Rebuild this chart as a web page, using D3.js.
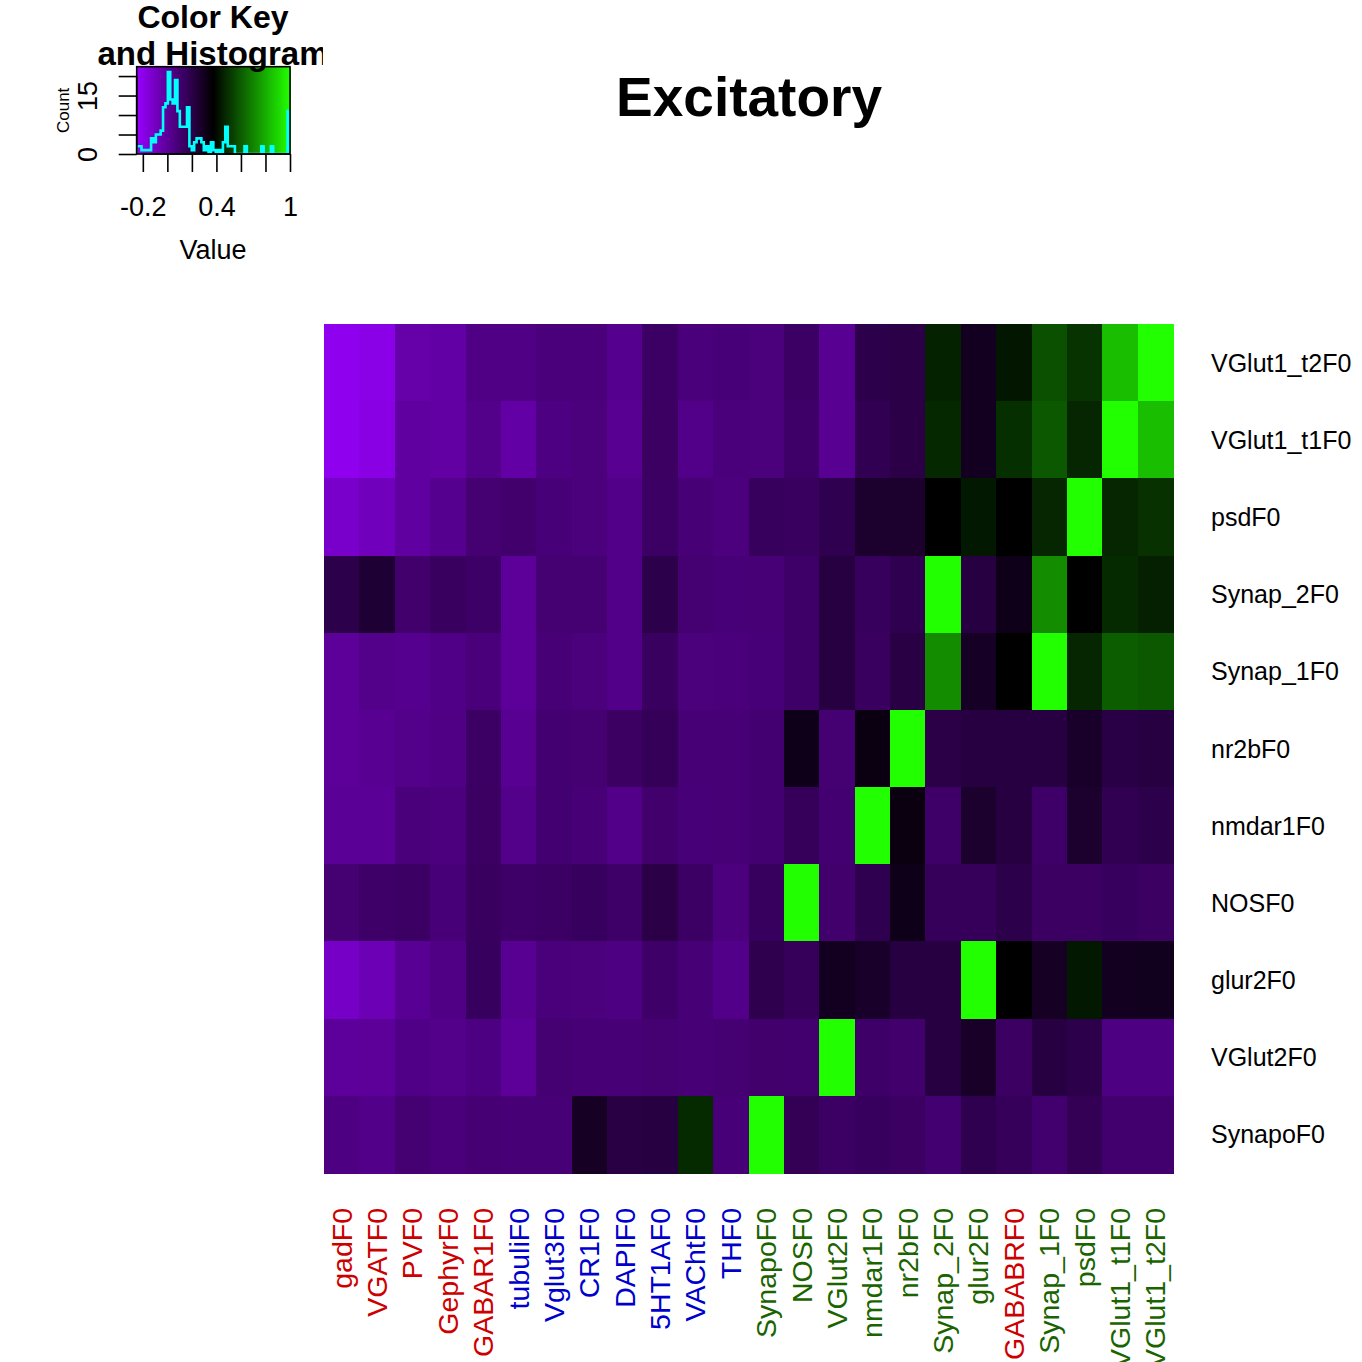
<!DOCTYPE html>
<html><head><meta charset="utf-8">
<script src="https://cdn.jsdelivr.net/npm/d3@7"></script>
<style>html,body{margin:0;padding:0;background:#fff;}svg{display:block;font-family:"Liberation Sans",Arial,Helvetica,sans-serif;}</style>
</head><body>
<svg id="chart" width="1362" height="1362"></svg>
<script>
// ---------- data ----------
const colLabels = ["gadF0","VGATF0","PVF0","GephyrF0","GABAR1F0","tubuliF0","Vglut3F0","CR1F0","DAPIF0","5HT1AF0","VAChtF0","THF0","SynapoF0","NOSF0","VGlut2F0","nmdar1F0","nr2bF0","Synap_2F0","glur2F0","GABABRF0","Synap_1F0","psdF0","VGlut1_t1F0","VGlut1_t2F0"];
const colGroups = ["inh","inh","inh","inh","inh","oth","oth","oth","oth","oth","oth","oth","exc","exc","exc","exc","exc","exc","exc","inh","exc","exc","exc","exc"];
const rowLabels = ["VGlut1_t2F0","VGlut1_t1F0","psdF0","Synap_2F0","Synap_1F0","nr2bF0","nmdar1F0","NOSF0","glur2F0","VGlut2F0","SynapoF0"];
const rowVGlut1_t2 = [-0.21,-0.19,-0.04,-0.03,0.05,0.05,0.076,0.076,0.025,0.13,0.076,0.08, 0.07,0.13,0.02,0.19,0.20,0.458,0.297,0.43,0.57,0.50,0.84,1.0];
const rowVGlut1_t1 = [-0.21,-0.185,-0.02,-0.027,0.037,-0.03,0.056,0.07,0.017,0.135,0.04,0.076, 0.07,0.12,0.02,0.175,0.20,0.473,0.297,0.49,0.59,0.468,1.0,0.84];
const rowPsd       = [-0.12,-0.086,-0.02,0.026,0.095,0.11,0.08,0.07,0.04,0.13,0.085,0.066, 0.15,0.14,0.18,0.262,0.262,0.375,0.434,0.375,0.468,1.0,0.468,0.497];
const rowSynap_2   = [0.194,0.247,0.11,0.14,0.125,0.0,0.095,0.095,0.04,0.194,0.095,0.08, 0.085,0.12,0.218,0.15,0.18,1.0,0.218,0.316,0.718,0.375,0.478,0.453];
const rowSynap_1   = [0.0,0.037,0.026,0.047,0.076,0.0,0.086,0.07,0.04,0.14,0.07,0.076, 0.08,0.12,0.218,0.14,0.205,0.718,0.282,0.375,1.0,0.468,0.60,0.59];
const rowNr2b      = [0.0,0.02,0.035,0.05,0.13,0.02,0.10,0.095,0.135,0.16,0.085,0.085, 0.10,0.316,0.095,0.33,1.0,0.20,0.218,0.218,0.218,0.272,0.206,0.218];
const rowNmdar1    = [0.005,0.005,0.076,0.066,0.135,0.035,0.10,0.085,0.04,0.11,0.08,0.085, 0.10,0.155,0.10,1.0,0.336,0.12,0.262,0.218,0.12,0.262,0.175,0.19];
const rowNOS       = [0.095,0.12,0.13,0.08,0.14,0.12,0.13,0.145,0.12,0.20,0.13,0.066, 0.145,1.0,0.11,0.18,0.316,0.155,0.155,0.194,0.135,0.135,0.145,0.135];
const rowGlur2     = [-0.11,-0.066,0.012,0.05,0.145,0.02,0.076,0.07,0.06,0.12,0.085,0.04, 0.184,0.155,0.297,0.272,0.218,0.218,1.0,0.375,0.287,0.434,0.297,0.30];
const rowVGlut2    = [-0.005,0.0,0.047,0.035,0.06,0.0,0.095,0.085,0.085,0.095,0.085,0.095, 0.11,0.105,1.0,0.12,0.11,0.218,0.277,0.135,0.218,0.194,0.06,0.06];
const rowSynapo    = [0.056,0.04,0.095,0.076,0.09,0.085,0.085,0.287,0.205,0.218,0.478,0.08, 1.0,0.164,0.13,0.145,0.135,0.10,0.18,0.155,0.105,0.164,0.105,0.105];
const matrix = [rowVGlut1_t2,rowVGlut1_t1,rowPsd,rowSynap_2,rowSynap_1,rowNr2b,rowNmdar1,rowNOS,rowGlur2,rowVGlut2,rowSynapo];

// histogram counts (64 bins from -0.25 to 1)
const histCounts = [2,2,1,1,1,1,4,3,5,5,6,12,13,21,14,13,19,11,7,7,7,12,2,1,3,4,4,3,1,2,0,3,1,0,1,0,3,7,2,2,2,0,0,0,0,2,0,0,0,0,0,0,2,0,0,0,2,0,0,0,0,0,0,11];
const keyTicks = [-0.2,0,0.2,0.4,0.6,0.8,1];
const keyTickLabels = ["-0.2","","","0.4","","","1"];
const countTicks = [0,5,10,15,20];
const countTickLabels = ["0","","","15",""];

// ---------- drawing ----------
const svg = d3.select("#chart");
const groupColor = {inh:"#cd0000", oth:"#0000cd", exc:"#1a6400"};
const color = d3.scaleLinear().domain([-0.25,0.375,1]).range(["#9900ff","#000000","#22ff00"]).clamp(true);

// heatmap
const x = d3.scaleBand().domain(colLabels).range([324,1173]);
const y = d3.scaleBand().domain(rowLabels).range([324,1173]);
const cells = [];
matrix.forEach((row,i)=>row.forEach((v,j)=>cells.push({r:rowLabels[i],c:colLabels[j],v})));
svg.append("g").selectAll("rect").data(cells).join("rect")
  .attr("x",d=>x(d.c)).attr("y",d=>y(d.r))
  .attr("width",x.bandwidth()+0.5).attr("height",y.bandwidth()+0.5)
  .attr("fill",d=>color(d.v)).attr("shape-rendering","crispEdges");

// row labels
svg.append("g").selectAll("text").data(rowLabels).join("text")
  .attr("x",1211).attr("y",d=>y(d)+y.bandwidth()/2)
  .attr("dominant-baseline","central").attr("font-size",25).attr("fill","#000").text(d=>d);

// col labels
svg.append("g").selectAll("text").data(colLabels).join("text")
  .attr("transform",(d)=>`translate(${x(d)+x.bandwidth()/2},1208) rotate(-90)`)
  .attr("text-anchor","end").attr("dominant-baseline","central")
  .attr("font-size",28.5).attr("fill",(d,i)=>groupColor[colGroups[i]]).text(d=>d);

// title
svg.append("text").attr("x",749).attr("y",116).attr("text-anchor","middle")
  .attr("font-size",55).attr("font-weight","bold").text("Excitatory");

// ---------- color key ----------
const kx = d3.scaleLinear().domain([-0.25,1]).range([136.7,290]);
const ky = d3.scaleLinear().domain([0,22.4]).range([154,66.7]);
const keyG = svg.append("g");
const nSteps = 250;
const stepVals = d3.range(nSteps).map(i=>-0.25 + i*1.25/nSteps);
keyG.selectAll("rect.k").data(stepVals).join("rect").attr("class","k")
  .attr("x",d=>kx(d)).attr("y",ky(22.4)).attr("width",kx(1.25/nSteps)-kx(0)+0.6)
  .attr("height",ky(0)-ky(22.4)).attr("fill",d=>color(d+0.625/nSteps)).attr("shape-rendering","crispEdges");

// histogram step line
const binW = 1.25/histCounts.length;
const pts = [[kx(-0.25),ky(0)]];
histCounts.forEach((c,i)=>{
  const x0 = kx(-0.25+i*binW), x1 = kx(-0.25+(i+1)*binW);
  pts.push([x0,ky(c)]); pts.push([x1,ky(c)]);
});
pts.push([kx(1),ky(0)]);
svg.append("defs").append("clipPath").attr("id","keyclip").append("rect")
  .attr("x",kx(-0.25)).attr("y",ky(22.4)).attr("width",kx(1)-kx(-0.25)).attr("height",ky(0)-ky(22.4));
keyG.append("path").attr("d",d3.line()(pts)).attr("fill","none").attr("stroke","#00ffff")
  .attr("stroke-width",2.6).attr("clip-path","url(#keyclip)");
keyG.append("rect").attr("x",kx(-0.25)).attr("y",ky(22.4)).attr("width",kx(1)-kx(-0.25))
  .attr("height",ky(0)-ky(22.4)).attr("fill","none").attr("stroke","#000").attr("stroke-width",1.6);

// x axis of key
const xAxis = d3.axisBottom(kx).tickValues(keyTicks).tickSize(18).tickFormat((d,i)=>keyTickLabels[i]);
const xa = svg.append("g").attr("transform","translate(0,154)").call(xAxis);
xa.select(".domain").attr("d",`M${kx(-0.2)},0H${kx(1)}`).attr("stroke-width",1.6);
xa.selectAll(".tick line").attr("stroke-width",1.6);
xa.selectAll(".tick text").attr("font-size",27).attr("font-family","Liberation Sans, Arial, sans-serif").attr("fill","#000").attr("dy",0).attr("y",62);
svg.append("text").attr("x",213).attr("y",259).attr("text-anchor","middle").attr("font-size",27).text("Value");

// y axis of key
const yAxis = d3.axisLeft(ky).tickValues(countTicks).tickSize(18).tickFormat((d,i)=>countTickLabels[i]);
const ya = svg.append("g").attr("transform",`translate(${kx(-0.25)},0)`).call(yAxis);
ya.select(".domain").attr("d",`M0,${ky(0)}V${ky(20)}`).attr("stroke-width",1.6);
ya.selectAll(".tick line").attr("stroke-width",1.6);
ya.selectAll(".tick text").attr("font-size",27).attr("font-family","Liberation Sans, Arial, sans-serif").attr("fill","#000")
  .attr("x",0).attr("dy",0).attr("text-anchor","middle").attr("transform","translate(-40,0) rotate(-90)");
svg.append("text").attr("transform",`translate(69,${(ky(0)+ky(22.4))/2}) rotate(-90)`)
  .attr("text-anchor","middle").attr("font-size",17).text("Count");

// key title (clipped)
svg.select("defs").append("clipPath").attr("id","titleclip").append("rect").attr("x",0).attr("y",0).attr("width",323).attr("height",300);
const kt = svg.append("g").attr("clip-path","url(#titleclip)");
kt.append("text").attr("x",213).attr("y",28).attr("text-anchor","middle").attr("font-size",32).attr("font-weight","bold").text("Color Key");
kt.append("text").attr("x",213).attr("y",65).attr("text-anchor","middle").attr("font-size",33).attr("font-weight","bold").text("and Histogram");
</script>
</body></html>
